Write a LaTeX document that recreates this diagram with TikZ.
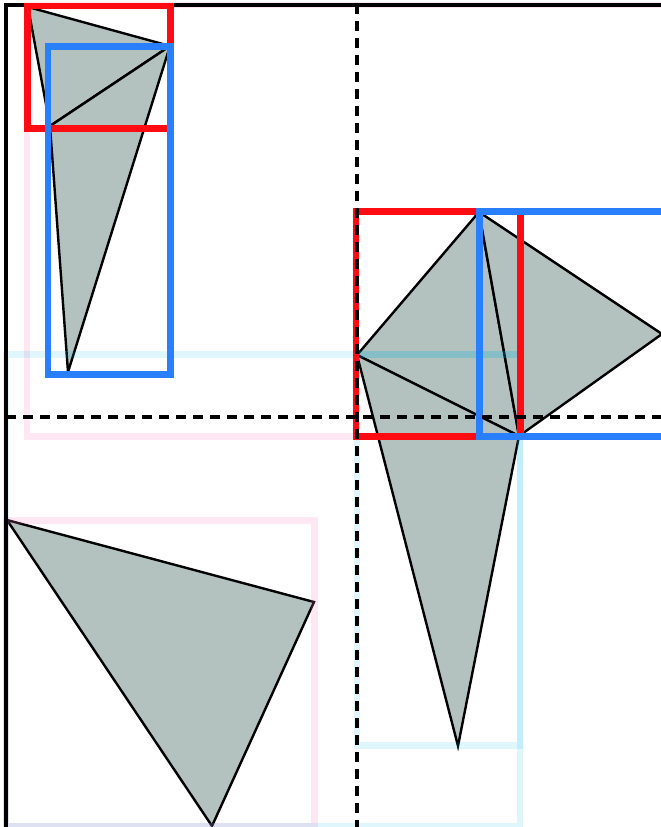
\documentclass[tikz,border=0pt]{standalone}
\definecolor{trigray}{RGB}{179,193,191}
\definecolor{boxred}{RGB}{255,12,18}
\definecolor{boxblue}{RGB}{42,127,255}
\definecolor{nodepink}{RGB}{255,120,195}
\definecolor{nodecyan}{RGB}{0,185,230}
\usepackage{tikz}
\usetikzlibrary{positioning}

\tikzset{
  tri/.style={fill=trigray, draw=black, line width=2.4pt, line join=miter},
  leafred/.style={draw=boxred, line width=6.2pt},
  leafblue/.style={draw=boxblue, line width=6.2pt},
  nodepinkbox/.style={draw=nodepink, draw opacity=0.18, line width=6.2pt},
  nodecyanbox/.style={draw=nodecyan, draw opacity=0.13, line width=6.2pt},
  split/.style={draw=black, line width=4pt, dash pattern=on 10pt off 7pt}
}

\begin{document}
\begin{tikzpicture}[x=1pt,y=-1pt]
\useasboundingbox (0,0) rectangle (661,827);
\clip (0,0) rectangle (661,827);

% vertices
\coordinate (a) at (28,7);
\coordinate (b) at (170,46);
\coordinate (c) at (50,126);
\coordinate (d) at (68,372);
\coordinate (e) at (357,355);
\coordinate (f) at (479,212);
\coordinate (g) at (519,436);
\coordinate (h) at (662,334);
\coordinate (i) at (458,746);
\coordinate (j) at (7,520);
\coordinate (k) at (314,602);
\coordinate (l) at (212,826);

% triangles
\filldraw[tri] (a) -- (b) -- (c) -- cycle;
\filldraw[tri] (c) -- (b) -- (d) -- cycle;
\filldraw[tri] (e) -- (f) -- (g) -- cycle;
\filldraw[tri] (f) -- (h) -- (g) -- cycle;
\filldraw[tri] (e) -- (g) -- (i) -- cycle;
\filldraw[tri] (j) -- (k) -- (l) -- cycle;

% upper level boxes
\draw[nodepinkbox] (27,5) rectangle (700,436.5);
\draw[nodepinkbox] (6.3,520.5) rectangle (314.5,826);
\draw[nodecyanbox] (6.3,354.5) rectangle (520,826);
\draw[nodecyanbox] (357,354.5) rectangle (520,745.5);

% outer frame
\draw[line width=3.8pt] (6.3,5) rectangle (700,860);

% leaf boxes
\draw[leafred] (27.5,6) rectangle (170.5,128.5);
\draw[leafblue] (48,46.5) rectangle (170.5,374.5);
\draw[leafred] (356,211.5) rectangle (520.5,436.5);
\draw[leafblue] (479.5,211.5) rectangle (700,436.5);

% splits
\draw[split] (356.5,4) -- (356.5,827);
\draw[split] (6,417) -- (661,417);
\end{tikzpicture}
\end{document}
